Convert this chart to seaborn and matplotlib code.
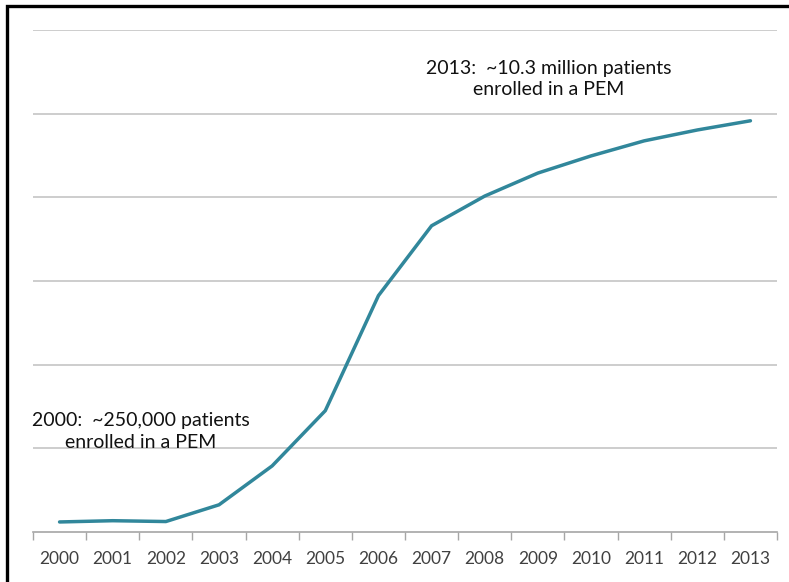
import matplotlib
matplotlib.use("Agg")
import matplotlib.pyplot as plt
import seaborn as sns
import pandas as pd
import numpy as np
from matplotlib.patches import Rectangle

years = [2000, 2001, 2002, 2003, 2004, 2005, 2006, 2007, 2008, 2009, 2010, 2011, 2012, 2013]
enrolled_millions = [0.24, 0.27, 0.25, 0.65, 1.58, 2.90, 5.65, 7.32, 8.03, 8.58, 8.99, 9.35, 9.61, 9.83]
note_2000 = "2000:  ~250,000 patients\nenrolled in a PEM"
note_2013 = "2013:  ~10.3 million patients\nenrolled in a PEM"

sns.set_theme(style="white")
plt.rcParams['font.family'] = ['Lato', 'DejaVu Sans']

df = pd.DataFrame({"year": years, "enrolled": enrolled_millions})

fig = plt.figure(figsize=(7.89, 5.82), dpi=100)
ax = fig.add_axes([33/789, 1-532/582, (777-33)/789, (532-30)/582])

sns.lineplot(data=df, x="year", y="enrolled", ax=ax, color="#31879B", linewidth=2.5, zorder=3)

ax.set_xlim(1999.5, 2013.5)
ax.set_ylim(0, 12)
ax.set_yticks(np.arange(2, 13, 2))
ax.yaxis.grid(True, color="#c9c9c9", linewidth=1.3)
ax.set_yticklabels([])
ax.tick_params(axis="y", length=0)
ax.set_xticks(years)
ax.set_xticklabels([str(y) for y in years], fontsize=12.5, color="#404040")
ax.set_xticks([y - 0.5 for y in years] + [2013.5], minor=True)
ax.tick_params(axis="x", which="major", length=0, pad=14)
ax.tick_params(axis="x", which="minor", length=6, width=1, color="#a6a6a6", direction="out", bottom=True)
ax.set_xlabel("")
ax.set_ylabel("")
for s in ["top", "right", "left"]:
    ax.spines[s].set_visible(False)
ax.spines["bottom"].set_color("#a6a6a6")
ax.spines["bottom"].set_linewidth(1.2)

ax.text(2001.53, 2.40, note_2000, ha="center", va="center", fontsize=14, color="#111111",
        linespacing=1.32, zorder=2)
ax.text(2009.2, 10.83, note_2013, ha="center", va="center", fontsize=14, color="#111111",
        linespacing=1.32, zorder=2)

fig.patches.append(Rectangle((7/789, -0.1), 1.2, 1.1 - 6/582, transform=fig.transFigure,
                             fill=False, edgecolor="black", linewidth=2.4))

fig.savefig("out.png", dpi=100)
